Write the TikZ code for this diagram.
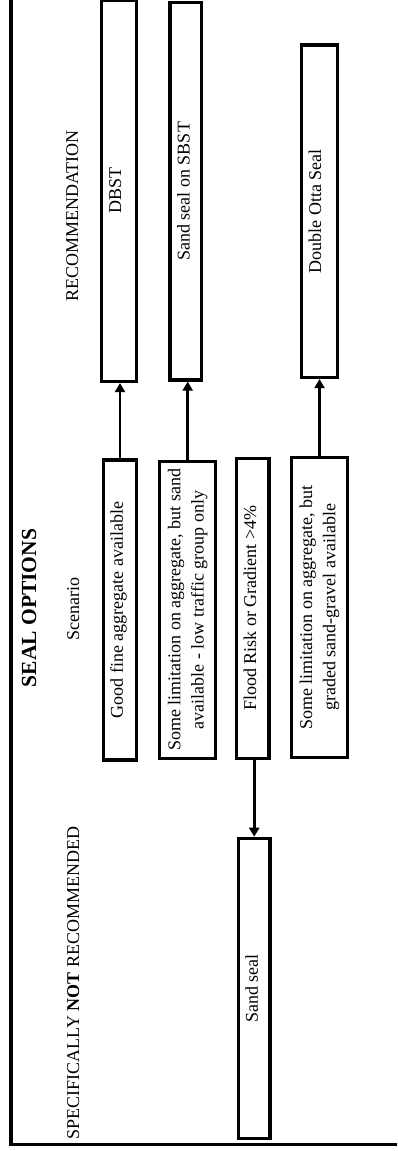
\documentclass[tikz,border=0pt]{standalone}
\usepackage{fontspec}
\setmainfont{Liberation Serif}
\usetikzlibrary{arrows.meta}
\begin{document}
\begin{tikzpicture}[x=1pt,y=-1pt,
  box/.style={draw, line width=3.2pt, rotate=90, inner sep=0pt, align=center,
    font=\fontsize{18}{23.3}\selectfont},
  oneline/.style={text height=19.5pt, text depth=#1},
  head/.style={rotate=90, anchor=base, inner sep=0pt, font=\fontsize{18}{21}\selectfont},
  title/.style={rotate=90, anchor=base, inner sep=0pt, font=\fontsize{21.5}{25}\selectfont\bfseries},
  arr/.style={line width=2.8pt, -{Triangle[length=9pt,width=10pt]}},
  frame/.style={line width=3.3pt}]
\useasboundingbox (0,0) rectangle (397,1151);
\clip (0,0) rectangle (397,1151);

% outer frame
\draw[frame] (11,-10) |- (410,1144.3);

% headings
\node[title] (ttl) at (36,608) {SEAL OPTIONS};
\node[head] (scen) at (79,609) {Scenario};
\node[head] (rec) at (78,216) {RECOMMENDATION};
\node[head] (notrec) at (79,983) {SPECIFICALLY \textbf{NOT} RECOMMENDED};

% recommendations
\node[box, oneline=15.5pt, minimum width=381.5pt, minimum height=35pt] (dbst) at (119,190.75) {DBST};
\node[box, oneline=12pt, minimum width=377.5pt, minimum height=31.5pt] (sbst) at (185.75,191.25) {Sand seal on SBST};
\node[box, oneline=16.3pt, minimum width=332.5pt, minimum height=35.8pt] (otta) at (319.6,211.25) {Double Otta Seal};

% scenarios
\node[box, oneline=13.9pt, minimum width=300pt, minimum height=33.4pt] (good) at (120,610) {Good fine aggregate available};
\node[box, minimum width=296.6pt, minimum height=56pt] (lim) at (187.7,610)
  {Some limitation on aggregate, but sand\\available - low traffic group only};
\node[box, oneline=12.8pt, minimum width=300pt, minimum height=32.3pt] (flood) at (252.8,608.3) {Flood Risk or Gradient >4\%};
\node[box, minimum width=300pt, minimum height=55.6pt] (grad) at (319.5,607.3)
  {Some limitation on aggregate, but\\graded sand-gravel available};

% not recommended
\node[box, oneline=12.2pt, minimum width=300pt, minimum height=31.7pt] (sand) at (254.2,988.3) {Sand seal};

% connectors
\draw[arr] (good.east) -- (good.east |- dbst.west);
\draw[arr] (lim.east) -- (lim.east |- sbst.west);
\draw[arr] (grad.east) -- (grad.east |- otta.west);
\draw[arr] (flood.west -| sand.east) -- (sand.east);
\end{tikzpicture}
\end{document}
